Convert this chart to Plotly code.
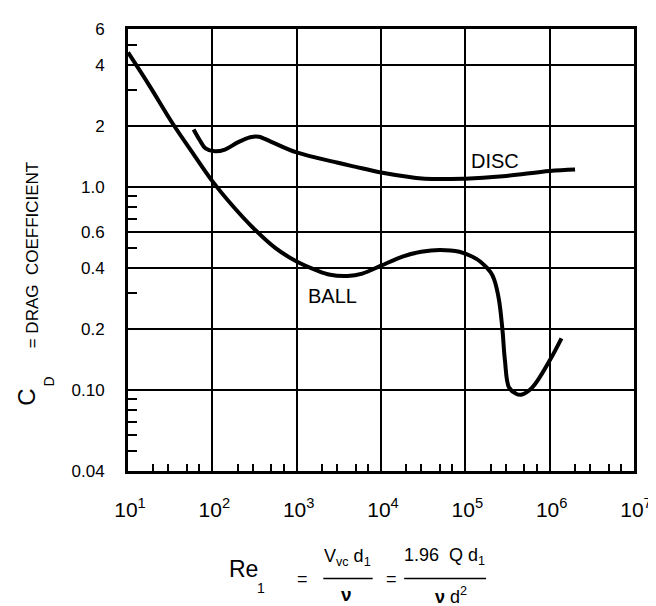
import numpy as np
import plotly.graph_objects as go

# ---- data ----
ball_re = [10, 18, 34, 60, 100, 178, 316, 562, 1000, 1700, 2500, 4000, 6000, 10000,
           18000, 30000, 50000, 85000, 120000, 150000, 200000, 220000, 250000, 275000,
           295000, 330000, 400000, 460000, 620000, 1000000, 1380000]
ball_cd = [4.6, 3.15, 2.05, 1.45, 1.07, 0.80, 0.62, 0.50, 0.43, 0.39, 0.37, 0.365, 0.375, 0.41,
           0.455, 0.48, 0.49, 0.48, 0.455, 0.43, 0.38, 0.35, 0.28, 0.2,
           0.14, 0.103, 0.096, 0.095, 0.103, 0.14, 0.18]

disc_re = [60, 71, 83, 107, 141, 200, 282, 355, 500, 1000, 3000, 4900, 10000, 33000,
           100000, 280000, 1000000, 2000000]
disc_cd = [1.92, 1.7, 1.55, 1.5, 1.53, 1.66, 1.76, 1.77, 1.67, 1.48, 1.32, 1.26, 1.18, 1.1,
           1.1, 1.13, 1.2, 1.22]

x_tickvals = [1e1, 1e2, 1e3, 1e4, 1e5, 1e6, 1e7]
x_ticktext = ["10<sup>1</sup>", "10<sup>2</sup>", "10<sup>3</sup>", "10<sup>4</sup>",
              "10<sup>5</sup>", "10<sup>6</sup>", "10<sup>7</sup>"]
x_minor = [d * m for d in [10, 100, 1000, 1e4, 1e5, 1e6] for m in [2, 3, 5, 7]]

y_tickvals = [0.04, 0.1, 0.2, 0.4, 0.6, 1.0, 2, 4, 6]
y_ticktext = ["0.04", "0.10", "0.2", "0.4", "0.6", "1.0", "2", "4", "6"]
y_minor = [0.05, 0.06, 0.07, 0.08, 0.09, 0.3, 0.5, 0.7, 0.8, 0.9, 3, 5]

ball_label = ("BALL", 2630, 0.29)
disc_label = ("DISC", 224000, 1.35)

FONT = "Liberation Sans"
W, H = 656, 606
L, R, T, B = 120, 23, 19, 143

fig = go.Figure()
fig.add_trace(go.Scatter(x=ball_re, y=ball_cd, mode="lines",
                         line=dict(color="black", width=4, shape="spline", smoothing=1.0),
                         name="BALL", hoverinfo="skip"))
fig.add_trace(go.Scatter(x=disc_re, y=disc_cd, mode="lines",
                         line=dict(color="black", width=4, shape="spline", smoothing=1.0),
                         name="DISC", hoverinfo="skip"))

for text, xv, yv in (ball_label, disc_label):
    fig.add_annotation(x=np.log10(xv), y=np.log10(yv), xref="x", yref="y", text=text,
                       showarrow=False, font=dict(family=FONT, size=20, color="black"),
                       xanchor="center", yanchor="middle")


def pxx(xp):
    return (xp - L) / (W - L - R)


def pyy(yp):
    return (H - B - yp) / (H - T - B)


def note(text, xp, yp, size, angle=0):
    fig.add_annotation(x=pxx(xp), y=pyy(yp), xref="paper", yref="paper", text=text,
                       showarrow=False, textangle=angle, borderpad=0,
                       font=dict(family=FONT, size=size, color="black"),
                       xanchor="center", yanchor="middle")


# y-axis title (rotated)
note("= DRAG  COEFFICIENT", 24, 246, 17, -90)
note("C", 17, 389, 24, -90)
note("D", 40, 373, 14, -90)

# x-axis formula
note("Re", 237, 561, 23)
note("1", 255, 581, 14)
note("=", 297, 571, 18)
note("V<sub>vc</sub> d<sub>1</sub>", 343, 550, 18)
note("<b>ν</b>", 342, 587, 19)
note("=", 387, 571, 18)
note("1.96  Q d<sub>1</sub>", 441, 549, 18)
note("<b>ν</b> d<sup>2</sup>", 447, 588, 18)
for x0, x1 in ((318, 368), (400, 483)):
    fig.add_shape(type="line", xref="paper", yref="paper", x0=pxx(x0), x1=pxx(x1),
                  y0=pyy(571), y1=pyy(571), line=dict(color="black", width=1.5))

axis_common = dict(type="log", showgrid=True, gridcolor="black", gridwidth=2,
                   showline=True, linecolor="black", linewidth=3, mirror=True,
                   ticks="", zeroline=False)

fig.update_xaxes(**axis_common, range=[1, 7], tickmode="array", tickvals=x_tickvals,
                 ticktext=x_ticktext, tickfont=dict(family=FONT, size=21, color="black"),
                 ticklabelstandoff=18, ticklabelshift=2, ticklabeloverflow="allow",
                 minor=dict(tickmode="array", tickvals=x_minor, ticks="inside",
                            ticklen=7, tickwidth=2, tickcolor="black", showgrid=False))
fig.update_yaxes(**axis_common, range=[np.log10(0.04), np.log10(6)], tickmode="array",
                 tickvals=y_tickvals, ticktext=y_ticktext,
                 tickfont=dict(family=FONT, size=17, color="black"),
                 ticklabelstandoff=17,
                 minor=dict(tickmode="array", tickvals=y_minor, ticks="inside",
                            ticklen=9, tickwidth=2, tickcolor="black", showgrid=False))

fig.update_layout(width=W, height=H, margin=dict(l=L, r=R, t=T, b=B),
                  paper_bgcolor="white", plot_bgcolor="white", showlegend=False,
                  font=dict(family=FONT, color="black"))

fig.write_html("out.html")
